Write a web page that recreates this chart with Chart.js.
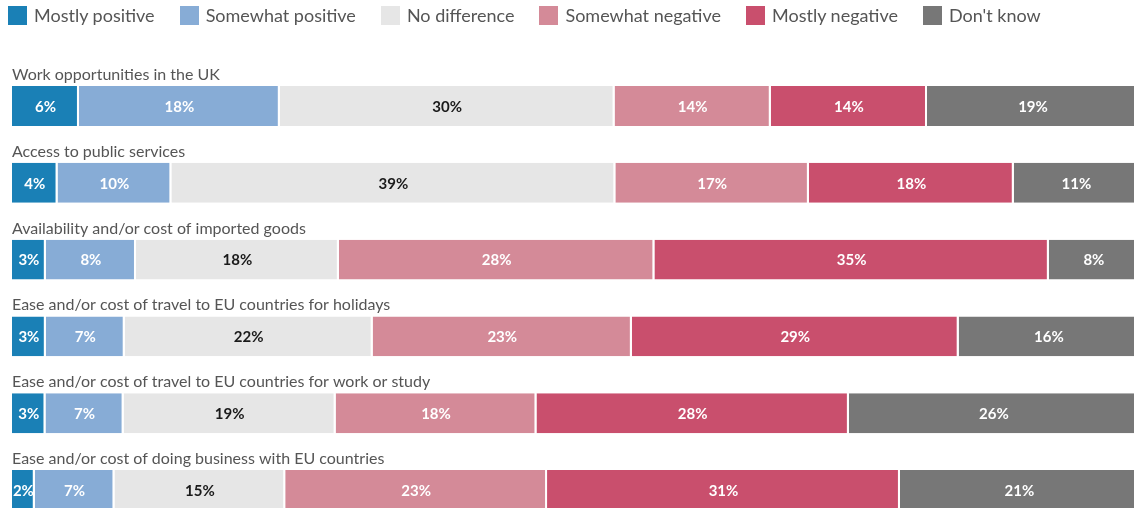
<!DOCTYPE html>
<html lang="en">
<head>
    <meta charset="UTF-8">
    <title>Brexit impact</title>
    <script src="https://cdn.jsdelivr.net/npm/chart.js"></script>
    <style>
        html, body { margin: 0; padding: 0; background: #fff; overflow: hidden; }
        body { width: 1134px; height: 508px; position: relative; font-family: Lato, sans-serif; }
        #legend { position: absolute; top: 4px; left: 8px; display: flex; z-index: 2; }
        #legend .item { display: flex; align-items: center; margin-right: 25px; color: #555; font-size: 18px; }
        #legend .box { width: 19px; height: 19px; margin-right: 7px; }
        #wrap { position: absolute; top: 0; left: 0; width: 1139px; height: 540px; }
    </style>
</head>
<body>
    <div id="legend"></div>
    <div id="wrap"><canvas id="chart"></canvas></div>

    <script>
        const categories = [
            'Work opportunities in the UK',
            'Access to public services',
            'Availability and/or cost of imported goods',
            'Ease and/or cost of travel to EU countries for holidays',
            'Ease and/or cost of travel to EU countries for work or study',
            'Ease and/or cost of doing business with EU countries'
        ];
        const responses = ['Mostly positive', 'Somewhat positive', 'No difference', 'Somewhat negative', 'Mostly negative', "Don't know"];
        const mostlyPositive   = [6, 4, 3, 3, 3, 2];
        const somewhatPositive = [18, 10, 8, 7, 7, 7];
        const noDifference     = [30, 39, 18, 22, 19, 15];
        const somewhatNegative = [14, 17, 28, 23, 18, 23];
        const mostlyNegative   = [14, 18, 35, 29, 28, 31];
        const dontKnow         = [19, 11, 8, 16, 26, 21];

        const colors = ['#1a80b6', '#87acd6', '#e6e6e6', '#d48a98', '#c94f6d', '#777777'];
        const labelColors = ['#fff', '#fff', '#1a1a1a', '#fff', '#fff', '#fff'];
        const series = [mostlyPositive, somewhatPositive, noDifference, somewhatNegative, mostlyNegative, dontKnow];

        // rounded percentages don't always add to 100, so each bar is drawn as a share of its row total
        const rowTotals = categories.map((c, i) => series.reduce((s, arr) => s + arr[i], 0));

        const legend = document.getElementById('legend');
        responses.forEach((r, i) => {
            legend.innerHTML += `<div class="item"><span class="box" style="background:${colors[i]}"></span>${r}</div>`;
        });

        const barText = {
            id: 'barText',
            afterDatasetsDraw(chart) {
                const ctx = chart.ctx;
                ctx.save();
                // category titles above each bar
                const first = chart.getDatasetMeta(0);
                ctx.font = '16px Lato';
                ctx.fillStyle = '#555';
                ctx.textAlign = 'left';
                ctx.textBaseline = 'alphabetic';
                first.data.forEach((bar, i) => {
                    ctx.fillText(categories[i], chart.chartArea.left, bar.y - bar.height / 2 - 6);
                });
                // percentage inside each segment
                ctx.font = 'bold 15px Lato';
                ctx.textAlign = 'center';
                ctx.textBaseline = 'middle';
                chart.data.datasets.forEach((ds, d) => {
                    chart.getDatasetMeta(d).data.forEach((bar, i) => {
                        ctx.fillStyle = labelColors[d];
                        ctx.fillText(series[d][i] + '%', (bar.base + bar.x) / 2, bar.y + 1);
                    });
                });
                ctx.restore();
            }
        };

        new Chart(document.getElementById('chart'), {
            type: 'bar',
            data: {
                labels: categories,
                datasets: series.map((arr, d) => ({
                    label: responses[d],
                    data: arr.map((v, i) => v / rowTotals[i] * 100),
                    backgroundColor: colors[d],
                    borderColor: '#fff',
                    borderWidth: { left: 0, right: 2, top: 0, bottom: 0 },
                    borderSkipped: false,
                    barPercentage: 0.52,
                    categoryPercentage: 1
                }))
            },
            options: {
                indexAxis: 'y',
                responsive: true,
                maintainAspectRatio: false,
                animation: false,
                layout: { padding: { top: 67.6, bottom: 11.6, left: 12, right: 0 } },
                scales: {
                    x: { stacked: true, min: 0, max: 100, display: false },
                    y: { stacked: true, display: false }
                },
                plugins: {
                    legend: { display: false },
                    tooltip: { enabled: false }
                }
            },
            plugins: [barText]
        });
    </script>
</body>
</html>
